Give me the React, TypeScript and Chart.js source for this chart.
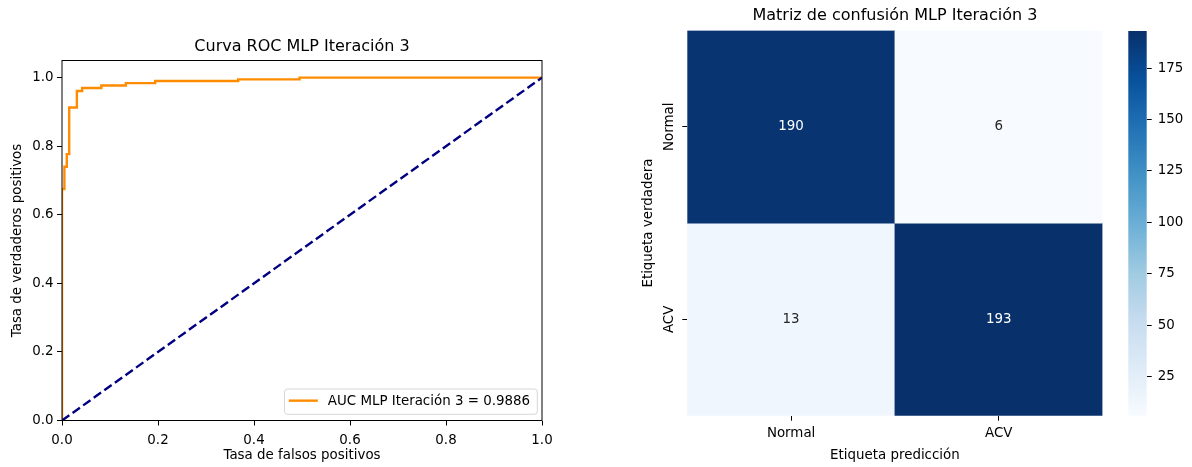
import React, { useEffect, useRef } from "react";
import { Chart, registerables } from "chart.js";

Chart.register(...registerables);

const FONT = "'DejaVu Sans', 'Liberation Sans', sans-serif";
const FS = 13.4;
const TFS = 16;

// ---------- ROC data ----------
const fpr = [0, 0, 0.005, 0.005, 0.010, 0.010, 0.015, 0.015, 0.031, 0.031, 0.042, 0.042, 0.082, 0.082, 0.133, 0.133, 0.194, 0.194, 0.367, 0.367, 0.495, 0.495, 1.0];
const tpr = [0, 0.675, 0.675, 0.740, 0.740, 0.777, 0.777, 0.913, 0.913, 0.961, 0.961, 0.970, 0.970, 0.977, 0.977, 0.984, 0.984, 0.990, 0.990, 0.995, 0.995, 1.0, 1.0];
const diagX = [0, 1];
const diagY = [0, 1];
const rocTicks = [0, 0.2, 0.4, 0.6, 0.8, 1.0];
const rocTitle = "Curva ROC MLP Iteración 3";
const aucLabel = "AUC MLP Iteración 3 = 0.9886";
const rocXTitle = "Tasa de falsos positivos";
const rocYTitle = "Tasa de verdaderos positivos";

// ---------- Confusion matrix data ----------
const classLabels = ["Normal", "ACV"];
const rowNormal = [190, 6];
const rowACV = [13, 193];
const cbarTicks = [25, 50, 75, 100, 125, 150, 175];
const cmTitle = "Matriz de confusión MLP Iteración 3";
const cmXTitle = "Etiqueta predicción";
const cmYTitle = "Etiqueta verdadera";

const matrixRows = [rowNormal, rowACV];
const allVals = matrixRows.flat();
const vmin = Math.min(...allVals);
const vmax = Math.max(...allVals);

// matplotlib "Blues" colormap anchors
const BLUES = [
  [247, 251, 255], [222, 235, 247], [198, 219, 239], [158, 202, 225], [107, 174, 214],
  [66, 146, 198], [33, 113, 181], [8, 81, 156], [8, 48, 107],
];
function bluesRGB(t: number): number[] {
  const c = Math.max(0, Math.min(1, t));
  const p = c * (BLUES.length - 1);
  const i = Math.min(BLUES.length - 2, Math.floor(p));
  const f = p - i;
  return BLUES[i].map((v, k) => v + (BLUES[i + 1][k] - v) * f);
}
function blues(t: number): string {
  const [r, g, b] = bluesRGB(t);
  return `rgb(${Math.round(r)},${Math.round(g)},${Math.round(b)})`;
}
function norm(v: number) {
  return (v - vmin) / (vmax - vmin);
}
function lum(rgb: number[]) {
  const lin = rgb.map((c) => {
    const s = c / 255;
    return s <= 0.03928 ? s / 12.92 : Math.pow((s + 0.055) / 1.055, 2.4);
  });
  return 0.2126 * lin[0] + 0.7152 * lin[1] + 0.0722 * lin[2];
}

const tickFont = { family: FONT, size: FS };
const titleFont = { family: FONT, size: TFS, weight: "normal" as const };

const framePlugin = {
  id: "frame",
  afterDatasetsDraw(chart: any) {
    const { ctx, chartArea } = chart;
    ctx.save();
    ctx.strokeStyle = "#000";
    ctx.lineWidth = 1;
    ctx.strokeRect(chartArea.left, chartArea.top, chartArea.right - chartArea.left, chartArea.bottom - chartArea.top);
    ctx.restore();
  },
};

const rocLegendPlugin = {
  id: "rocLegend",
  afterDatasetsDraw(chart: any) {
    const { ctx, chartArea } = chart;
    ctx.save();
    ctx.font = `${FS}px ${FONT}`;
    const textW = ctx.measureText(aucLabel).width;
    const boxW = 43.3 + textW + 7.3;
    const boxH = 25.3;
    const right = chartArea.right - 4.7;
    const bottom = chartArea.bottom - 6.2;
    const left = right - boxW;
    const top = bottom - boxH;
    const r = 3;
    ctx.beginPath();
    ctx.moveTo(left + r, top);
    ctx.lineTo(right - r, top);
    ctx.quadraticCurveTo(right, top, right, top + r);
    ctx.lineTo(right, bottom - r);
    ctx.quadraticCurveTo(right, bottom, right - r, bottom);
    ctx.lineTo(left + r, bottom);
    ctx.quadraticCurveTo(left, bottom, left, bottom - r);
    ctx.lineTo(left, top + r);
    ctx.quadraticCurveTo(left, top, left + r, top);
    ctx.closePath();
    ctx.fillStyle = "rgba(255,255,255,0.8)";
    ctx.fill();
    ctx.strokeStyle = "rgba(204,204,204,0.8)";
    ctx.lineWidth = 1;
    ctx.stroke();
    const cy = top + boxH / 2;
    ctx.beginPath();
    ctx.moveTo(left + 4.3, cy - 1);
    ctx.lineTo(left + 33.3, cy - 1);
    ctx.strokeStyle = "#ff8c00";
    ctx.lineWidth = 2.4;
    ctx.stroke();
    ctx.fillStyle = "#000";
    ctx.textAlign = "left";
    ctx.textBaseline = "middle";
    ctx.fillText(aucLabel, left + 43.3, cy);
    ctx.restore();
  },
};

const annotPlugin = {
  id: "annot",
  afterDatasetsDraw(chart: any) {
    const { ctx } = chart;
    ctx.save();
    ctx.font = `${FS}px ${FONT}`;
    ctx.textAlign = "center";
    ctx.textBaseline = "middle";
    chart.data.datasets.forEach((ds: any, d: number) => {
      const meta = chart.getDatasetMeta(d);
      meta.data.forEach((el: any, j: number) => {
        const v = ds.values[j];
        const L = lum(bluesRGB(norm(v)));
        ctx.fillStyle = L > 0.408 ? "#262626" : "#ffffff";
        ctx.fillText(String(v), el.x, (el.y + el.base) / 2);
      });
    });
    ctx.restore();
  },
};

export default function App() {
  const rocRef = useRef<HTMLCanvasElement>(null);
  const cmRef = useRef<HTMLCanvasElement>(null);
  const cbRef = useRef<HTMLCanvasElement>(null);

  useEffect(() => {
    Chart.defaults.font.family = FONT;
    Chart.defaults.color = "#000";
    const charts: Chart[] = [];

    // ---------------- ROC chart ----------------
    charts.push(
      new Chart(rocRef.current as HTMLCanvasElement, {
        type: "line",
        data: {
          datasets: [
            {
              label: aucLabel,
              data: fpr.map((x, i) => ({ x, y: tpr[i] })),
              borderColor: "#ff8c00",
              borderWidth: 2.4,
              pointRadius: 0,
              tension: 0,
              fill: false,
              clip: 0,
              order: 1,
            },
            {
              label: "diag",
              data: diagX.map((x, i) => ({ x, y: diagY[i] })),
              borderColor: "#000080",
              borderWidth: 2.4,
              borderDash: [9, 4],
              pointRadius: 0,
              tension: 0,
              fill: false,
              clip: 0,
              order: 0,
            },
          ],
        },
        options: {
          responsive: false,
          animation: false,
          events: [],
          layout: { padding: { left: 0, right: 54, top: 0, bottom: 0 } },
          plugins: {
            legend: { display: false },
            tooltip: { enabled: false },
            title: {
              display: true,
              fullSize: false,
              text: rocTitle,
              font: titleFont,
              color: "#000",
              padding: { top: 37.4, bottom: 3.9 },
            },
          },
          scales: {
            x: {
              type: "linear",
              min: 0,
              max: 1,
              border: { display: false },
              grid: { display: true, drawOnChartArea: false, drawTicks: true, tickLength: 5, tickColor: "#000", tickWidth: 1 },
              ticks: { font: tickFont, color: "#000", padding: 7, maxRotation: 0, callback: (v: any) => Number(v).toFixed(1) },
              afterBuildTicks: (s: any) => {
                s.ticks = rocTicks.map((v) => ({ value: v }));
              },
              afterFit: (s: any) => {
                s.height = 46.5;
              },
              title: { display: true, text: rocXTitle, font: tickFont, color: "#000", padding: { top: 0, bottom: 3.2 } },
            },
            y: {
              type: "linear",
              min: 0,
              max: 1.05,
              border: { display: false },
              grid: { display: true, drawOnChartArea: false, drawTicks: true, tickLength: 5, tickColor: "#000", tickWidth: 1 },
              ticks: { font: tickFont, color: "#000", padding: 3.5, callback: (v: any) => Number(v).toFixed(1) },
              afterBuildTicks: (s: any) => {
                s.ticks = rocTicks.map((v) => ({ value: v }));
              },
              afterFit: (s: any) => {
                s.width = 62;
              },
              title: { display: true, text: rocYTitle, font: tickFont, color: "#000", padding: { top: 9, bottom: 0 } },
            },
          },
        },
        plugins: [framePlugin, rocLegendPlugin],
      } as any)
    );

    // ---------------- Confusion matrix heatmap ----------------
    const n = classLabels.length;
    charts.push(
      new Chart(cmRef.current as HTMLCanvasElement, {
        type: "bar",
        data: {
          labels: classLabels,
          datasets: matrixRows.map((row, i) => ({
            label: classLabels[i],
            data: row.map(() => [i, i + 1]),
            values: row,
            backgroundColor: row.map((v) => blues(norm(v))),
            borderWidth: 0,
            barPercentage: 1,
            categoryPercentage: 1,
            grouped: false,
          })),
        },
        options: {
          responsive: false,
          animation: false,
          events: [],
          layout: { padding: { left: 0, right: 7.5, top: 0, bottom: 0 } },
          plugins: {
            legend: { display: false },
            tooltip: { enabled: false },
            title: {
              display: true,
              fullSize: false,
              text: cmTitle,
              font: titleFont,
              color: "#000",
              padding: { top: 5.8, bottom: 5.5 },
            },
          },
          scales: {
            x: {
              type: "category",
              offset: true,
              border: { display: false },
              grid: { display: true, offset: false, drawOnChartArea: false, drawTicks: true, tickLength: 5, tickColor: "#000", tickWidth: 1 },
              ticks: { font: tickFont, color: "#000", padding: 5, maxRotation: 0 },
              afterFit: (s: any) => {
                s.height = 51.3;
              },
              title: { display: true, text: cmXTitle, font: tickFont, color: "#000", padding: { top: 0, bottom: 3.2 } },
            },
            y: {
              type: "linear",
              min: 0,
              max: n,
              reverse: true,
              border: { display: false },
              grid: { display: true, drawOnChartArea: false, drawTicks: true, tickLength: 5, tickColor: "#000", tickWidth: 1 },
              ticks: {
                font: tickFont,
                color: "#000",
                minRotation: 90,
                maxRotation: 90,
                crossAlign: "center",
                padding: -11.4,
                callback: (v: any) => classLabels[Math.floor(Number(v))],
              },
              afterBuildTicks: (s: any) => {
                s.ticks = classLabels.map((_, i) => ({ value: i + 0.5 }));
              },
              afterFit: (s: any) => {
                s.width = 91.3;
              },
              title: { display: true, text: cmYTitle, font: tickFont, color: "#000", padding: { top: 44.3, bottom: 0 } },
            },
          },
        },
        plugins: [annotPlugin],
      } as any)
    );

    // ---------------- Colorbar ----------------
    charts.push(
      new Chart(cbRef.current as HTMLCanvasElement, {
        type: "bar",
        data: {
          labels: [""],
          datasets: [
            {
              label: "colorbar",
              data: [[vmin, vmax]],
              borderWidth: 0,
              barPercentage: 1,
              categoryPercentage: 1,
              backgroundColor: (c: any) => {
                const chart = c.chart;
                const ys = chart.scales && chart.scales.y;
                if (!chart.chartArea || !ys) return "#6baed6";
                const y0 = ys.getPixelForValue(vmin);
                const y1 = ys.getPixelForValue(vmax);
                const g = chart.ctx.createLinearGradient(0, y0, 0, y1);
                BLUES.forEach((_, k) => {
                  const t = k / (BLUES.length - 1);
                  g.addColorStop(t, blues(t));
                });
                return g;
              },
            },
          ],
        },
        options: {
          responsive: false,
          animation: false,
          events: [],
          layout: { padding: { left: 18.3, right: 0, top: 31, bottom: 51.3 } },
          plugins: { legend: { display: false }, tooltip: { enabled: false }, title: { display: false } },
          scales: {
            x: { type: "category", display: false, offset: true },
            y: {
              type: "linear",
              position: "right",
              min: vmin,
              max: vmax,
              border: { display: false },
              grid: { display: true, drawOnChartArea: false, drawTicks: true, tickLength: 5, tickColor: "#000", tickWidth: 1 },
              ticks: { font: tickFont, color: "#000", padding: 6 },
              afterBuildTicks: (s: any) => {
                s.ticks = cbarTicks.map((v) => ({ value: v }));
              },
              afterFit: (s: any) => {
                s.width = 45.3;
              },
            },
          },
        },
      } as any)
    );

    return () => {
      charts.forEach((c) => c.destroy());
    };
  }, []);

  return (
    <div style={{ position: "fixed", left: 0, top: 0, width: 1192, height: 467, background: "#fff", overflow: "hidden" }}>
      <canvas ref={rocRef} width={596} height={467} style={{ position: "absolute", left: 0, top: 0 }} />
      <canvas ref={cmRef} width={514} height={467} style={{ position: "absolute", left: 596, top: 0 }} />
      <canvas ref={cbRef} width={82} height={467} style={{ position: "absolute", left: 1110, top: 0 }} />
    </div>
  );
}
